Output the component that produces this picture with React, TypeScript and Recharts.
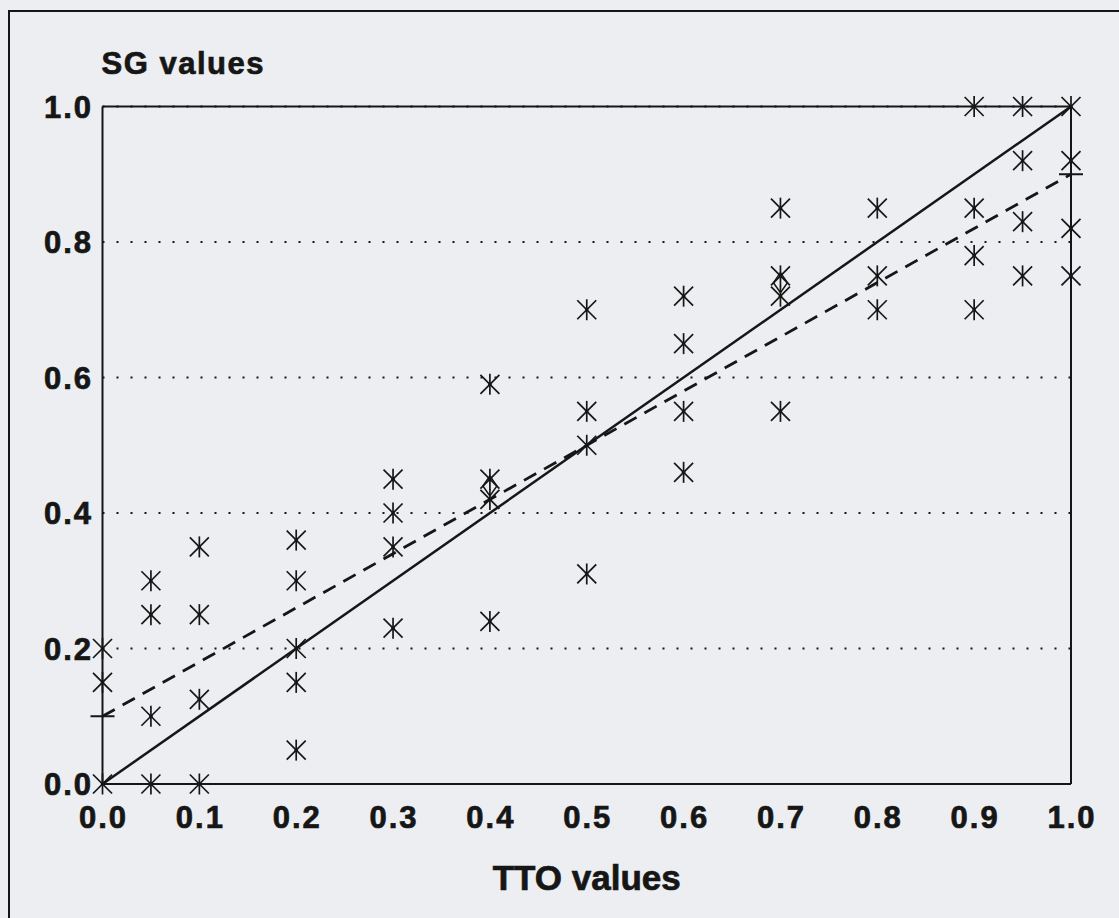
import { ScatterChart, Scatter, XAxis, YAxis, CartesianGrid, ReferenceLine, Label } from 'recharts';

const INK = '#161616';
const PAPER = '#eceef1';
const FONT = '"Liberation Sans", Arial, Helvetica, sans-serif';

// TTO levels (x) and the SG answers (y) read at each level
const ttoLevels = [0, 0.05, 0.1, 0.2, 0.3, 0.4, 0.5, 0.6, 0.7, 0.8, 0.9, 0.95, 1.0];
const sgAt = [
  [0.2, 0.15, 0],
  [0.3, 0.25, 0.1, 0],
  [0.35, 0.25, 0.125, 0],
  [0.36, 0.3, 0.2, 0.15, 0.05],
  [0.45, 0.4, 0.35, 0.23],
  [0.59, 0.45, 0.42, 0.24],
  [0.7, 0.55, 0.5, 0.31],
  [0.72, 0.65, 0.55, 0.46],
  [0.85, 0.75, 0.72, 0.55],
  [0.85, 0.75, 0.7],
  [1.0, 0.85, 0.78, 0.7],
  [1.0, 0.92, 0.83, 0.75],
  [1.0, 0.92, 0.82, 0.75],
];
// small diamond marks drawn between two close stars
const diamondPoints = [
  { x: 0.4, y: 0.44 },
  { x: 0.7, y: 0.74 },
];
const identityLine = [
  { x: 0, y: 0 },
  { x: 1, y: 1 },
];
const fitLine = [
  { x: 0, y: 0.1 },
  { x: 1, y: 0.9 },
];
const xTicks = [0, 0.1, 0.2, 0.3, 0.4, 0.5, 0.6, 0.7, 0.8, 0.9, 1.0];
const yTicks = [0, 0.2, 0.4, 0.6, 0.8, 1.0];

const stars = ttoLevels.flatMap((x, i) => sgAt[i].map((y) => ({ x, y })));

const Star = ({ cx, cy }: any) => (
  <g stroke={INK} strokeWidth={1.7} fill="none">
    <line x1={cx} y1={cy - 10.5} x2={cx} y2={cy + 10.5} />
    <line x1={cx - 9.5} y1={cy - 9.5} x2={cx + 9.5} y2={cy + 9.5} />
    <line x1={cx - 9.5} y1={cy + 9.5} x2={cx + 9.5} y2={cy - 9.5} />
    <circle cx={cx} cy={cy} r={1.8} fill={INK} stroke="none" />
  </g>
);

const Diamond = ({ cx, cy }: any) => (
  <path
    d={`M${cx},${cy - 10} L${cx + 7},${cy} L${cx},${cy + 10} L${cx - 7},${cy} Z`}
    stroke={INK}
    strokeWidth={1.5}
    fill="none"
  />
);

const EndTick = ({ cx, cy }: any) => (
  <line x1={cx - 12} y1={cy} x2={cx + 12} y2={cy} stroke={INK} strokeWidth={2} />
);

const Nothing = () => <g />;

// heavier than plain bold, like the scanned Helvetica
const labelStyle = { fontFamily: FONT, fontWeight: 700, fill: INK, stroke: INK, strokeWidth: 0.7 } as const;

const XTick = ({ x, y, payload }: any) => (
  <text x={x + 1} y={y + 44} textAnchor="middle" fontSize={31} letterSpacing={2} style={labelStyle}>
    {payload.value.toFixed(1)}
  </text>
);

const YTick = ({ x, y, payload }: any) => (
  <text x={x - 9.5} y={y + 11} textAnchor="end" fontSize={31} letterSpacing={2} style={labelStyle}>
    {payload.value.toFixed(1)}
  </text>
);

export default function App() {
  return (
    <div
      style={{
        position: 'absolute',
        left: 0,
        top: 0,
        width: 1119,
        height: 918,
        background: PAPER,
        overflow: 'hidden',
      }}
    >
      <div
        style={{
          position: 'absolute',
          left: 8,
          top: 10,
          width: 1200,
          height: 1000,
          borderLeft: `2px solid ${INK}`,
          borderTop: `2px solid ${INK}`,
        }}
      />
      <ScatterChart
        width={1119}
        height={918}
        margin={{ top: 106.5, right: 48, bottom: 34, left: 7.5 }}
        style={{ position: 'absolute', left: 0, top: 0 }}
      >
        <CartesianGrid vertical={false} stroke={INK} strokeWidth={2} strokeDasharray="2 12" />
        <XAxis
          type="number"
          dataKey="x"
          domain={[0, 1]}
          ticks={xTicks}
          interval={0}
          height={100}
          tickSize={0}
          tickMargin={0}
          tickLine={false}
          axisLine={{ stroke: INK, strokeWidth: 2 }}
          tick={<XTick />}
        >
          <Label
            content={({ viewBox }: any) => (
              <text
                x={viewBox.x + viewBox.width / 2}
                y={viewBox.y + 106}
                textAnchor="middle"
                fontSize={35}
                style={labelStyle}
              >
                TTO values
              </text>
            )}
          />
        </XAxis>
        <YAxis
          type="number"
          dataKey="y"
          domain={[0, 1]}
          ticks={yTicks}
          interval={0}
          width={95}
          tickSize={0}
          tickMargin={0}
          tickLine={false}
          axisLine={{ stroke: INK, strokeWidth: 2 }}
          tick={<YTick />}
        >
          <Label
            content={({ viewBox }: any) => (
              <text
                x={viewBox.x + viewBox.width - 1}
                y={viewBox.y - 33}
                textAnchor="start"
                fontSize={31}
                letterSpacing={1.5}
                style={labelStyle}
              >
                SG values
              </text>
            )}
          />
        </YAxis>
        <ReferenceLine y={1} stroke={INK} strokeWidth={2} />
        <ReferenceLine x={1} stroke={INK} strokeWidth={2} />
        <Scatter
          data={identityLine}
          line={{ stroke: INK, strokeWidth: 2.5 }}
          shape={<Nothing />}
          isAnimationActive={false}
        />
        <Scatter
          data={fitLine}
          line={{ stroke: INK, strokeWidth: 2.8, strokeDasharray: '14 9' }}
          shape={<EndTick />}
          isAnimationActive={false}
        />
        <Scatter data={stars} shape={<Star />} isAnimationActive={false} />
        <Scatter data={diamondPoints} shape={<Diamond />} isAnimationActive={false} />
      </ScatterChart>
    </div>
  );
}
